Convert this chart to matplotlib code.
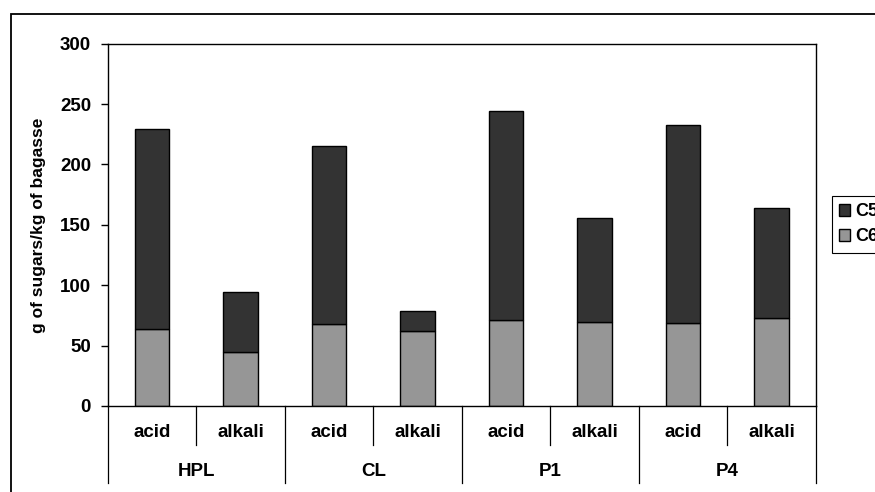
import matplotlib.pyplot as plt
from matplotlib.patches import Rectangle
from matplotlib.lines import Line2D
import matplotlib.transforms as mtransforms

plt.rcParams['font.family'] = ['Liberation Sans', 'DejaVu Sans']
plt.rcParams['font.weight'] = 'bold'

# data
groups = ["HPL", "CL", "P1", "P4"]
treatments = ["acid", "alkali"]
c6 = [64, 45, 67.5, 62.5, 71, 69.5, 69, 73]
c5 = [165.5, 49.5, 148, 16.5, 173.5, 86, 164, 91]

fig = plt.figure(figsize=(8.75, 4.92), dpi=100)
ax = fig.add_axes([0.1231, 0.1748, 0.8095, 0.7364])

# outer chart frame (cut off on right and bottom like the original)
fig.patches.append(Rectangle((11 / 875, -0.1), 1.2, 1 - 14 / 492 + 0.1,
                             transform=fig.transFigure, fill=False,
                             edgecolor="black", linewidth=1.3))

x = list(range(len(c6)))
w = 0.39
ax.bar(x, c6, width=w, color="#969696", edgecolor="black", linewidth=1.0, label="C6")
ax.bar(x, c5, width=w, bottom=c6, color="#333333", edgecolor="black", linewidth=1.0, label="C5")

ax.set_xlim(-0.5, len(c6) - 0.5)
ax.set_ylim(0, 300)
ax.set_yticks(range(0, 301, 50))
ax.tick_params(axis="y", direction="out", length=5, width=1, labelsize=13.5, pad=7)
ax.set_xticks([])
for s in ax.spines.values():
    s.set_linewidth(1.0)
    s.set_color("black")

ax.set_ylabel("g of sugars/kg of bagasse", fontsize=12.5, fontweight="bold", labelpad=10)

# two-level category axis
trans = mtransforms.blended_transform_factory(ax.transData, ax.transAxes)
for i in range(len(c6)):
    ax.text(i, -0.072, treatments[i % 2], transform=trans, ha="center", va="center",
            fontsize=13.5, fontweight="bold")
for i in range(len(c6) + 1):
    xd = i - 0.5
    y_end = -0.2125 if i % 2 == 0 else -0.1076
    ax.add_line(Line2D([xd, xd], [0, y_end], transform=trans, color="black",
                       linewidth=0.9, clip_on=False))
for g, name in enumerate(groups):
    ax.text(2 * g + 0.5, -0.182, name, transform=trans, ha="center", va="center",
            fontsize=13.5, fontweight="bold")

handles, labels = ax.get_legend_handles_labels()
leg = ax.legend(handles[::-1], labels[::-1], loc="upper left",
                bbox_to_anchor=(832 / 875, 1 - 196 / 492), bbox_transform=fig.transFigure,
                fancybox=False, edgecolor="black", framealpha=1,
                prop={"size": 13, "weight": "bold"},
                handlelength=0.6, handleheight=0.6, handletextpad=0.3,
                borderpad=0.4, labelspacing=0.45, borderaxespad=0)
leg.get_frame().set_linewidth(0.8)

fig.savefig("out.png", dpi=100)
